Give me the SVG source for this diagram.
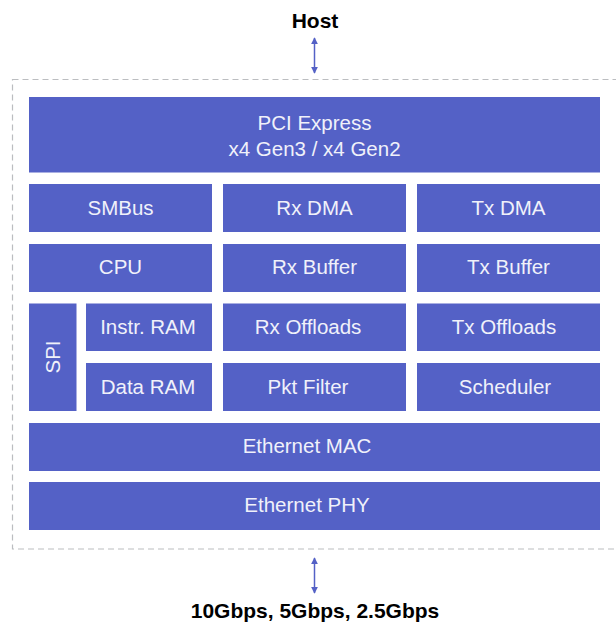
<svg xmlns="http://www.w3.org/2000/svg" width="616" height="624" viewBox="0 0 616 624">
<style>
.b{fill:#5461C6}
.t{font-family:"Liberation Sans",Arial,sans-serif;font-size:20.5px;fill:#F0F1FA;text-anchor:middle;dominant-baseline:central}
.h{font-family:"Liberation Sans",Arial,sans-serif;font-size:21px;font-weight:bold;fill:#000;text-anchor:middle}
.c{stroke:#5461C6;stroke-width:1.5;fill:none;marker-start:url(#a);marker-end:url(#a)}
</style>
<defs>
<marker id="a" viewBox="0 0 10 10" refX="9" refY="5" markerWidth="7" markerHeight="7" markerUnits="userSpaceOnUse" orient="auto-start-reverse"><path d="M0,0 L10,5 L0,10 z" fill="#5461C6"/></marker>
</defs>
<rect x="12.5" y="79.5" width="606" height="469.5" fill="none" stroke="#BBBDC0" stroke-width="1.2" stroke-dasharray="6,4"/>
<text class="h" x="315" y="28">Host</text>
<text class="h" x="315" y="618">10Gbps, 5Gbps, 2.5Gbps</text>
<g id="connectors">
<path class="c" d="M314.5,38 V73"/>
<path class="c" d="M314.5,558 V593"/>
</g>
<g id="pci"><rect class="b" x="29" y="97" width="571" height="75.5"/><text class="t" x="314.5" y="122">PCI Express</text><text class="t" x="314.5" y="148">x4 Gen3 / x4 Gen2</text></g>
<g id="smbus"><rect class="b" x="29" y="184" width="183" height="48"/><text class="t" x="120.5" y="207">SMBus</text></g>
<g id="rxdma"><rect class="b" x="223" y="184" width="183" height="48"/><text class="t" x="314.5" y="207">Rx DMA</text></g>
<g id="txdma"><rect class="b" x="417" y="184" width="183" height="48"/><text class="t" x="508.5" y="207">Tx DMA</text></g>
<g id="cpu"><rect class="b" x="29" y="244" width="183" height="48"/><text class="t" x="120.5" y="266">CPU</text></g>
<g id="rxbuf"><rect class="b" x="223" y="244" width="183" height="48"/><text class="t" x="314.5" y="266">Rx Buffer</text></g>
<g id="txbuf"><rect class="b" x="417" y="244" width="183" height="48"/><text class="t" x="508.5" y="266">Tx Buffer</text></g>
<g id="spi"><rect class="b" x="29" y="303.5" width="47.5" height="107.5"/><text class="t" transform="translate(52.5,357) rotate(-90)" x="0" y="0">SPI</text></g>
<g id="iram"><rect class="b" x="86" y="303.5" width="126" height="47.5"/><text class="t" x="148" y="326">Instr. RAM</text></g>
<g id="rxoff"><rect class="b" x="223" y="303.5" width="183" height="47.5"/><text class="t" x="308" y="326">Rx Offloads</text></g>
<g id="txoff"><rect class="b" x="417" y="303.5" width="183" height="47.5"/><text class="t" x="504" y="326">Tx Offloads</text></g>
<g id="dram"><rect class="b" x="86" y="363" width="126" height="48"/><text class="t" x="148" y="386">Data RAM</text></g>
<g id="pktf"><rect class="b" x="223" y="363" width="183" height="48"/><text class="t" x="308" y="386">Pkt Filter</text></g>
<g id="sched"><rect class="b" x="417" y="363" width="183" height="48"/><text class="t" x="505" y="386">Scheduler</text></g>
<g id="mac"><rect class="b" x="29" y="423" width="571" height="48"/><text class="t" x="307" y="445">Ethernet MAC</text></g>
<g id="phy"><rect class="b" x="29" y="482" width="571" height="48"/><text class="t" x="307" y="504">Ethernet PHY</text></g>
</svg>
